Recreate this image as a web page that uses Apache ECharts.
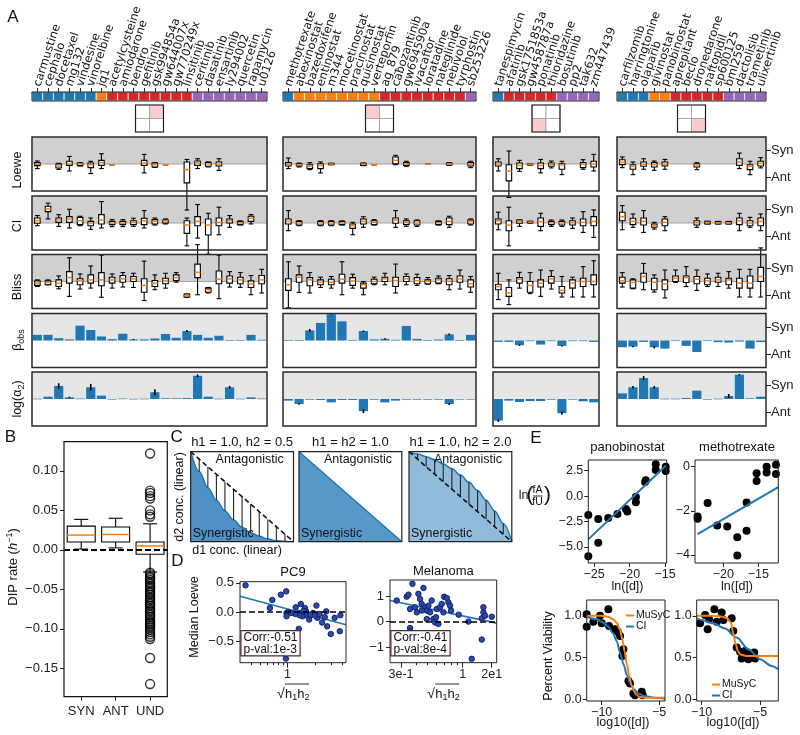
<!DOCTYPE html>
<html>
<head>
<meta charset="utf-8">
<script src="https://cdn.jsdelivr.net/npm/echarts@6/dist/echarts.min.js"></script>
<style>
html, body { margin: 0; padding: 0; background: #fff; }
#main { width: 800px; height: 735px; }
</style>
</head>
<body>
<div id="main"></div>
<script>
// ---------- panel A : drugs, classes, quadrants ----------
const g1Drugs = ['carmustine','cephalo','docetaxel','mg132','vindesine','vinorelbine','jq1','acetylcysteine','amiodarone','bendro','gefitinib','gsk994854a','gw644007x','gw770249x','linsitinib','ceritinib','dasatinib','ensartinib','ly294002','quercetin','rapamycin','u0126'];
const g2Drugs = ['methotrexate','abexinostat','bazedoxifene','entinostat','m344','mocetinostat','pracinostat','quisinostat','verteporfin','ag_879','cabozantinib','gw694590a','ivacaftor','loratadine','nateglinide','nebivolol','tyrphostin','sb253226'];
const g3Drugs = ['tanespimycin','afatinib','gsk1751853a','gw458787a','ponatinib','thioridazine','bosutinib','pp2','tak632','zm447439'];
const g4Drugs = ['carfilzomib','harringtonine','olaparib','givinostat','panobinostat','aprepitant','beclo','dronedarone','naftopidil','sp600125','bml259','dactolisib','trametinib','ulixertinib'];

const g1Cls = 'bbbbbborrrrrrrrppppppp'.split('');
const g2Cls = 'boooooooorrrrrrrrp'.split('');
const g3Cls = 'brrrrrpppp'.split('');
const g4Cls = 'bbboorrrrrpppp'.split('');

// pink cell of the 2x2 quadrant [col,row] (row 1 = top)
const g1Quad = [1, 1];
const g2Quad = [0, 1];
const g3Quad = [0, 0];
const g4Quad = [1, 0];

// boxes: [min, q1, median, q3, max]; null = no data
const g1Loewe = [[-0.34,-0.12,-0.02,0.1,0.22],null,[-0.4,-0.3,-0.15,0.0,0.05],[-0.52,-0.1,0.0,0.2,0.56],[-0.15,-0.12,0.0,0.07,0.1],[-0.71,-0.27,-0.05,0.07,0.2],[-0.34,-0.1,0.1,0.27,0.76],[-0.05,-0.05,-0.05,-0.05,-0.05],null,null,[-0.66,-0.1,0.07,0.27,0.71],[-0.25,-0.22,-0.05,0.07,0.1],[-0.05,-0.05,-0.05,-0.05,-0.05],null,[-3.41,-1.4,-0.42,0.15,0.34],[-0.34,-0.1,0.07,0.22,0.39],[-0.22,-0.17,0.0,0.12,0.15],[-0.47,-0.15,-0.02,0.15,0.39],null,null,null,null];
const g2Loewe = [[-0.34,-0.15,-0.02,0.1,0.44],[-0.22,-0.15,-0.05,0.02,0.07],[-0.42,-0.34,-0.17,-0.05,0.1],[-0.66,-0.34,-0.1,0.02,0.15],[-0.05,-0.05,0,0.05,0.05],null,null,[-0.12,-0.1,0,0.05,0.07],[-0.05,-0.05,-0.05,-0.05,-0.05],null,[-0.05,0.02,0.27,0.52,0.64],[-0.17,-0.1,0,0.1,0.2],null,[-0.02,-0.02,-0.02,-0.02,-0.02],null,[-0.1,-0.07,0,0.07,0.1],null,[-0.27,-0.15,-0.02,0.1,0.2]];
const g3Loewe = [[-0.52,-0.15,0,0.15,0.39],[-2.48,-1.25,-0.52,-0.05,0.96],[-0.54,-0.34,-0.1,0.07,0.27],[-0.07,-0.07,-0.02,0,0],[-0.66,-0.34,-0.1,0.07,0.34],[-0.29,-0.17,-0.02,0.07,0.22],[-0.79,-0.39,-0.07,0.02,0.2],null,[-0.39,-0.27,-0.02,0.1,0.32],[-0.52,-0.22,0,0.2,0.71]];
const g4Loewe = [[-0.27,-0.05,0.12,0.32,0.52],[-0.79,-0.39,-0.17,-0.05,0.15],[-0.39,-0.17,-0.02,0.15,0.39],[-0.47,-0.22,-0.05,0.1,0.22],[-0.39,-0.15,-0.02,0.15,0.34],null,null,[-0.42,-0.22,-0.07,0.02,0.1],null,null,null,[-0.34,-0.1,0.15,0.39,0.81],[-0.79,-0.42,-0.17,-0.05,0.2],[-0.29,-0.15,0.05,0.2,0.47]];

const g1CI = [[-0.2,-0.02,0.17,0.37,0.55],[0.3,0.84,1.04,1.24,1.47],[-0.25,0.05,0.22,0.37,0.62],[-0.37,0.05,0.3,0.47,1.02],[-0.2,-0.12,0.17,0.42,0.5],[-0.47,-0.2,0,0.12,0.37],[-0.37,-0.07,0.22,0.62,1.59],[-0.27,-0.12,0,0.12,0.25],[-0.27,-0.12,-0.02,0.12,0.25],[-0.25,-0.12,0.05,0.17,0.35],[-0.37,-0.12,0.17,0.35,0.92],[-0.15,-0.07,0.12,0.25,0.37],[-0.07,0,0.15,0.22,0.3],null,[-1.69,-0.77,-0.15,0.17,0.37],[-1.12,-0.2,0.12,0.47,1.37],[-2.31,-0.89,-0.15,0.3,0.72],[-0.87,-0.2,0.05,0.37,1.17],[-0.32,0,0.17,0.3,0.55],[-0.15,-0.12,0,0.12,0.15],[-0.07,0.12,0.35,0.5,0.62],null];
const g2CI = [[-0.57,-0.07,0.12,0.3,0.92],[-0.2,-0.15,0,0.12,0.17],null,[-0.2,-0.15,0,0.12,0.17],[-0.2,-0.15,0,0.12,0.17],[-0.15,-0.12,0,0.12,0.15],[-0.87,-0.4,-0.2,-0.07,0.05],[-0.32,-0.07,0.12,0.3,0.47],[-0.15,-0.12,0.05,0.17,0.25],null,[-0.32,-0.02,0.22,0.37,0.92],[-0.25,-0.12,0.05,0.17,0.3],[-0.25,-0.15,0,0.17,0.22],null,[-0.15,-0.12,0.02,0.12,0.15],[-0.32,-0.12,0.12,0.37,0.5],null,[-0.15,-0.07,0.1,0.22,0.3]];
const g3CI = [[-0.5,-0.07,0.17,0.3,0.8],[-1.69,-0.57,-0.15,0.17,1.17],[-0.25,-0.02,0.12,0.22,0.22],[0,0,0.07,0.12,0.12],[-0.57,-0.25,0.1,0.37,0.72],[-0.25,-0.12,0.02,0.12,0.22],[-0.25,-0.15,0,0.12,0.22],[-0.4,-0.15,0.02,0.17,0.37],[-0.7,-0.2,0.05,0.3,0.84],[-1.07,-0.2,0.12,0.47,0.97]];
const g4CI = [[-0.5,0.17,0.47,0.8,1.29],[-0.32,-0.12,0.12,0.35,0.67],[-0.7,-0.15,0.12,0.37,0.92],[-0.45,-0.32,-0.2,-0.07,0.05],[-0.57,-0.2,0.05,0.3,0.47],null,null,[-0.32,-0.15,0.02,0.17,0.37],[-0.07,-0.07,0.05,0.12,0.12],[-0.07,-0.07,0.02,0.1,0.12],[-0.07,-0.07,0.02,0.1,0.12],[-0.57,-0.12,0.17,0.37,0.72],[-0.32,-0.2,0,0.17,0.42],[-0.57,-0.2,0.12,0.37,0.67]];

const g1Bliss = [[-0.37,-0.29,-0.12,0.05,0.12],[-0.24,-0.24,-0.07,0.05,0.12],[-0.54,-0.37,-0.12,0.12,0.41],[-1.1,-0.12,0.29,0.73,1.76],[-0.56,-0.24,0.05,0.2,0.56],[-0.49,-0.12,0.12,0.49,1.15],[-1.17,-0.32,0.12,0.66,1.95],[-0.49,-0.12,0.12,0.32,0.56],[-0.41,-0.05,0.2,0.44,0.66],[-0.44,0,0.2,0.37,0.61],[-1.41,-0.8,-0.29,0.2,1.51],[-0.61,-0.37,-0.12,0.07,0.49],[-0.49,-0.17,0.05,0.24,0.61],[-0.05,0.07,0.29,0.49,0.66],[-1.17,-1.15,-1.05,-0.93,-0.93],[-0.98,0.29,0.68,1.29,2.73],[-0.85,-0.8,-0.61,-0.49,-0.44],[-1.27,-0.17,0.17,0.78,1.95],[-0.41,-0.12,0.2,0.41,0.73],[-0.44,-0.17,0.12,0.32,0.66],[-0.98,-0.44,-0.17,0.05,0.44],[-0.85,-0.17,0.12,0.44,0.9]];
const g2Bliss = [[-1.95,-0.66,-0.24,0.2,1.46],[-0.8,-0.05,0.32,0.49,1.15],[-0.85,-0.32,0.12,0.29,0.66],[-0.44,-0.24,-0.05,0.12,0.32],[-0.49,-0.24,-0.05,0.17,0.37],[-0.98,-0.12,0.17,0.54,1.46],[-0.49,-0.29,0.05,0.29,0.54],[-0.98,-0.49,-0.24,-0.12,0],[-0.24,-0.17,0,0.17,0.32],[-0.24,0,0.2,0.32,0.61],[-0.85,-0.37,0.07,0.32,1.29],[-0.24,0,0.2,0.37,0.56],[-0.29,-0.17,0.07,0.29,0.54],[-0.2,-0.17,0.02,0.12,0.29],[-0.17,-0.12,0.12,0.24,0.41],[-0.61,-0.24,0.02,0.2,0.44],[-0.56,-0.05,0.2,0.41,0.85],[-0.8,-0.41,-0.17,0.12,0.37]];
const g3Bliss = [[-1.34,-0.61,-0.37,-0.2,0.61],[-1.71,-1.1,-0.85,-0.44,0.12],[-0.49,-0.12,0.17,0.29,0.68],[-0.9,-0.8,-0.29,0,0.66],[-1.1,-0.41,-0.12,0.12,0.85],[-0.56,-0.12,0.2,0.37,0.8],[-1.15,-0.85,-0.66,-0.37,0.37],[-1.15,-0.49,-0.12,0.12,0.32],[-1.15,-0.37,0,0.24,1.1],[-1.15,-0.24,0,0.49,1.54]];
const g4Bliss = [[-0.41,-0.12,0.05,0.32,0.66],[-0.54,-0.49,-0.07,0.12,0.2],[-0.61,-0.05,0.37,0.61,1.34],[-0.78,-0.61,-0.05,0.24,0.49],[-1.22,-0.61,-0.17,0.12,0.85],[-0.07,0,0.24,0.41,0.85],[-0.37,-0.07,0.29,0.41,1.1],[-0.66,-0.17,0.17,0.37,0.85],[-0.37,-0.24,0.05,0.24,0.56],[-0.37,-0.05,0.12,0.32,0.61],[-0.49,-0.24,0.12,0.24,0.73],[-1.15,-0.49,-0.12,0.24,0.9],[-1.15,-0.49,-0.12,0.41,0.9],[-1.15,0,0.37,1.05,2.49]];

// bars: beta_obs and log(alpha2), with error half-lengths
const g1Beta = [0.42,0.42,0.17,0.08,1.1,0.78,0.3,0.1,0.5,0.08,0.08,0.15,0.48,0.2,0.7,0.42,0.2,0.35,0.02,0.02,0.42,0.05];
const g1BetaErr = [0,0,0,0,0,0,0,0,0,0.04,0,0,0,0,0.08,0,0,0,0,0,0,0];
const g2Beta = [0.02,0.02,0.75,1.3,1.95,1.42,0.02,0.7,0.08,0.12,0.05,1.08,0.12,0.01,0.07,0.45,0.01,0.42];
const g2BetaErr = [0,0,0.1,0,0.03,0,0,0.05,0,0.05,0,0,0,0,0,0.06,0,0];
const g3Beta = [-0.1,-0.1,-0.35,-0.05,-0.3,-0.05,-0.4,-0.05,-0.05,-0.1];
const g3BetaErr = [0,0,0.05,0,0,0,0.05,0,0,0];
const g4Beta = [-0.5,-0.45,-0.1,-0.5,-0.6,-0.03,-0.4,-0.85,-0.02,-0.12,-0.15,-0.08,-0.6,-0.12];
const g4BetaErr = [0,0.05,0,0.08,0,0,0,0,0,0,0,0,0,0];

const g1Alpha = [0.02,0.17,0.97,0.12,0.03,0.87,0.25,0,0.03,0.01,0.02,0.5,0.05,0.05,0.07,1.72,0.17,0.02,0.87,0.02,0.12,0.03];
const g1AlphaErr = [0,0,0.2,0.05,0,0.25,0,0,0,0,0,0.22,0,0,0,0.1,0,0,0.1,0,0,0];
const g2Alpha = [-0.12,-0.37,-0.05,-0.07,-0.25,-0.07,-0.07,-0.9,-0.05,-0.25,-0.12,-0.05,-0.05,-0.05,-0.05,-0.37,-0.03,-0.03];
const g2AlphaErr = [0,0.05,0,0,0,0,0,0.15,0,0,0,0,0,0,0,0.08,0,0];
const g3Alpha = [-1.6,-0.12,-0.22,-0.15,-0.15,-0.05,-1.05,-0.02,-0.17,-0.25];
const g3AlphaErr = [0.1,0,0,0,0,0,0.12,0,0,0];
const g4Alpha = [0.42,0.87,1.55,0.87,0.02,0.02,0.07,0.62,0,0.02,0.22,1.8,0.05,0.17];
const g4AlphaErr = [0,0.1,0.15,0.1,0,0,0,0,0,0,0.15,0.05,0,0];

// ---------- panel B ----------
const bCats = ['SYN', 'ANT', 'UND'];
const bBoxes = [[0.001,0.010,0.0187,0.030,0.0386],[0.0025,0.010,0.0195,0.029,0.040],[-0.028,-0.0055,0.005,0.010,0.033]];
const bUndOutliers = [0.042,0.045,0.05,0.065,0.068,0.072,0.075,0.122,
  -0.029,-0.031,-0.034,-0.036,-0.038,-0.041,-0.043,-0.046,-0.048,-0.05,-0.053,-0.055,-0.057,-0.06,-0.062,-0.064,-0.067,-0.069,-0.071,
  -0.074,-0.076,-0.078,-0.081,-0.083,-0.085,-0.088,-0.09,-0.092,-0.094,-0.096,-0.098,-0.101,-0.104,-0.107,-0.11,-0.113,-0.137,-0.17];
const bTicks = [-0.15,-0.10,-0.05,0,0.05,0.10];

// ---------- panel C ----------
const cX    = [0,0.083,0.167,0.25,0.333,0.417,0.5,0.583,0.667,0.75,0.833,0.917,1];
const cDiag = [1,0.917,0.833,0.75,0.667,0.583,0.5,0.417,0.333,0.25,0.167,0.083,0];
const c1Y   = [1,0.78,0.6,0.46,0.34,0.24,0.16,0.1,0.06,0.03,0.01,0.003,0];
const c3Y   = [1,0.975,0.945,0.91,0.865,0.81,0.74,0.66,0.57,0.46,0.34,0.2,0];
const cTitles = ['h1 = 1.0, h2 = 0.5', 'h1 = h2 = 1.0', 'h1 = 1.0, h2 = 2.0'];

// ---------- panel D ----------
const dPC9 = [[0.345,0.457],[0.68,0.206],[0.64,0.069],[0.845,0.297],[0.967,0.354],[0.975,-0.017],[1.02,0],[0.975,-0.074],[1.23,0.08],[1.4,0.137],[1.33,-0.017],[1.55,0.069],[1.6,0.011],[1.62,-0.057],[1.73,-0.13],[1.46,-0.074],[1.91,-0.017],[2.08,0.11],[2.13,-0.1],[2.25,-0.034],[2.4,-0.18],[2.57,-0.09],[2.67,0.011],[2.73,-0.246],[2.99,-0.377],[3.3,-0.1],[3.76,-0.33],[3.82,-0.057],[1.33,-0.29],[0.96,-0.8],[1.36,-0.057],[1.22,-0.034],[1.1,-0.017],[1.5,0.02],[1.8,-0.05],[2.0,-0.06]];
const dPC9Fit = [[0.3,0.27],[4.4,-0.22]];
const dMel = [[0.276,0.82],[0.335,0.97],[0.347,1.05],[0.375,1.47],[0.358,0.49],[0.358,-0.25],[0.358,-0.38],[0.408,0.36],[0.421,1.08],[0.435,0.88],[0.449,0.69],[0.465,1.31],[0.48,0.56],[0.496,0.43],[0.512,0.62],[0.529,0.36],[0.546,0.82],[0.564,0.1],[0.583,-0.03],[0.594,0.17],[0.602,0.49],[0.622,-0.09],[0.642,0.56],[0.664,0.69],[0.686,0.36],[0.695,0.97],[0.732,0.92],[0.756,0.75],[0.781,0.62],[0.796,0.43],[0.925,0.27],[1.117,0],[1.192,-1.45],[1.45,0.13],[1.497,0.36],[1.497,0.56],[1.546,0.23],[1.45,-0.7],[1.76,0.19],[0.449,0.43],[0.496,0.1],[0.394,0.56]];
const dMelFit = [[0.242,0.82],[1.94,-0.06]];

// ---------- panel E ----------
const ePano = [[-25.8,-1.87],[-25.8,-5.93],[-24.4,-2.27],[-24.4,-4.6],[-23.0,-2.17],[-21.7,-1.77],[-20.5,-1.27],[-20.3,-1.53],[-19.1,-0.1],[-19.1,-0.6],[-17.7,1.57],[-17.8,1.4],[-16.3,3.13],[-16.3,2.57],[-14.9,2.9],[-14.9,2.47]];
const ePanoFit = [[-25.8,-4.27],[-14.9,3.0]];
const eMtx = [[-23.67,-2.26],[-23.67,-2.36],[-22.24,-1.65],[-20.86,-2.66],[-19.43,-2.71],[-18.0,-3.2],[-18.0,-4.02],[-16.67,-1.62],[-16.67,-2.9],[-15.24,-0.3],[-15.24,-0.65],[-13.81,0],[-13.81,-0.27],[-12.48,0.08],[-12.48,-0.33]];
const eMtxFit = [[-23.67,-3.05],[-12.14,-0.93]];
const eViaPano = [[-11.31,1.02],[-11.31,0.87],[-10.73,0.93],[-10.15,1.0],[-10.0,0.91],[-9.42,1.08],[-9.36,0.88],[-8.84,0.84],[-8.6,0.81],[-8.4,0.76],[-8.11,0.6],[-8.2,0.52],[-7.67,0.22],[-7.53,0.19],[-7.24,0.07],[-7.09,0.05],[-6.51,0.09],[-6.42,0.05]];
const eViaPanoMusyc = [[-11.31,1.0],[-10,1.0],[-9.5,0.99],[-9,0.96],[-8.7,0.92],[-8.4,0.83],[-8.2,0.72],[-8.0,0.57],[-7.8,0.42],[-7.6,0.28],[-7.4,0.17],[-7.2,0.1],[-7.0,0.06],[-6.7,0.03],[-6.3,0.02],[-5.5,0.02],[-4.48,0.02]];
const eViaPanoCI = [[-11.31,0.99],[-10.5,0.96],[-10,0.93],[-9.5,0.88],[-9,0.79],[-8.7,0.7],[-8.4,0.56],[-8.1,0.42],[-7.8,0.29],[-7.5,0.19],[-7.2,0.12],[-6.8,0.07],[-6.3,0.04],[-5.5,0.02],[-4.48,0.01]];
const eViaMtx = [[-10.14,0.91],[-9.71,1.01],[-9.49,0.84],[-9.37,0.96],[-8.91,1.08],[-8.71,0.93],[-8.29,1.04],[-8.14,0.95],[-7.43,0.97],[-7.29,0.82],[-7.0,0.62],[-6.71,0.57],[-6.57,0.49],[-6.29,0.58],[-6.0,0.48],[-5.86,0.54],[-5.43,0.49],[-5.49,0.56]];
const eViaMtxMusyc = [[-10.43,1.0],[-9,1.0],[-8.2,0.99],[-7.8,0.97],[-7.5,0.92],[-7.3,0.8],[-7.1,0.67],[-6.9,0.58],[-6.7,0.54],[-6.5,0.53],[-6.2,0.52],[-5.5,0.52],[-4.5,0.52],[-3.43,0.52]];
const eViaMtxCI = [[-10.43,0.97],[-10,0.95],[-9,0.91],[-8,0.85],[-7,0.74],[-6,0.6],[-5,0.48],[-4,0.4],[-3.43,0.36]];

// ---------- helpers ----------
const FF = '"Liberation Sans", Arial, sans-serif';
const BLUE = '#1f77b4', ORANGE = '#ff7f0e';
const CLS_COLOR = { b: '#1f77b4', o: '#ff7f0e', r: '#d62728', p: '#9467bd' };
const fmt = (v, d) => (v < -1e-9 ? '\u2212' : '') + Math.abs(v).toFixed(d);

const grids = [], xAxes = [], yAxes = [], series = [], graphics = [];

function addGrid(l, t, w, h, border) {
  grids.push({ left: l, top: t, width: w, height: h, show: true, z: 5,
    borderColor: border ? border.c : '#111', borderWidth: border ? border.w : 1 });
  return grids.length - 1;
}
function mkAxis(gi, o) {
  const a = Object.assign({ gridIndex: gi, type: 'value', axisTick: { show: false },
    axisLabel: { show: false }, splitLine: { show: false } }, o);
  a.axisLine = Object.assign({ show: false }, o.axisLine || {}, { onZero: false });
  return a;
}
function addX(gi, o) { xAxes.push(mkAxis(gi, o || {})); return xAxes.length - 1; }
function addY(gi, o) { yAxes.push(mkAxis(gi, o || {})); return yAxes.length - 1; }
function ticks(vals, len) { return { show: true, customValues: vals, length: len, lineStyle: { color: '#222', width: 1 } }; }
function labels(vals, f, size, margin) {
  return { show: true, customValues: vals, formatter: f, fontSize: size, fontFamily: FF, color: '#222', margin: margin };
}
function T(x, y, text, size, o) {
  o = o || {};
  graphics.push({ type: 'text', x: x, y: y, rotation: o.rot || 0, silent: true, z: 20,
    style: Object.assign({ text: text, fontSize: size, fontFamily: o.ff || FF, fill: '#111',
      align: o.align || 'center', verticalAlign: o.va || 'middle' }, o.style || {}) });
}
function L(x1, y1, x2, y2, w) {
  graphics.push({ type: 'line', silent: true, z: 20, shape: { x1, y1, x2, y2 }, style: { stroke: '#111', lineWidth: w || 1 } });
}

// box renderer: half widths either fraction of a unit or pixels
function boxRenderer(half, capHalf, px) {
  return function (params, api) {
    const x = api.value(0);
    const c = [1, 2, 3, 4, 5].map(k => api.coord([x, api.value(k)]));
    const unit = api.size([1, 0])[0];
    const hw = px ? half : unit * half, cw = px ? capHalf : unit * capHalf;
    const cx = c[0][0];
    const st = { stroke: '#000', lineWidth: 1.1 };
    return { type: 'group', children: [
      { type: 'line', shape: { x1: cx, y1: c[0][1], x2: cx, y2: c[1][1] }, style: st },
      { type: 'line', shape: { x1: cx, y1: c[3][1], x2: cx, y2: c[4][1] }, style: st },
      { type: 'line', shape: { x1: cx - cw, y1: c[0][1], x2: cx + cw, y2: c[0][1] }, style: st },
      { type: 'line', shape: { x1: cx - cw, y1: c[4][1], x2: cx + cw, y2: c[4][1] }, style: st },
      { type: 'rect', shape: { x: cx - hw, y: c[3][1], width: 2 * hw, height: c[1][1] - c[3][1] },
        style: { stroke: '#000', lineWidth: 1.1, fill: '#fff' } },
      { type: 'line', shape: { x1: cx - hw, y1: c[2][1], x2: cx + hw, y2: c[2][1] },
        style: { stroke: ORANGE, lineWidth: 1.5 } }
    ] };
  };
}
function barRenderer(params, api) {
  const i = api.value(0), v = api.value(1), e = api.value(2);
  const p0 = api.coord([i - 0.43, 0]), p1 = api.coord([i + 0.43, v]);
  const ch = [{ type: 'rect', shape: { x: p0[0], y: Math.min(p0[1], p1[1]), width: p1[0] - p0[0],
    height: Math.max(Math.abs(p1[1] - p0[1]), 0.6) }, style: { fill: BLUE } }];
  if (e > 0) {
    const a = api.coord([i, v - e]), b = api.coord([i, v + e]);
    ch.push({ type: 'line', shape: { x1: a[0], y1: a[1], x2: b[0], y2: b[1] }, style: { stroke: '#000', lineWidth: 1.6 } });
  }
  return { type: 'group', children: ch };
}

// ---------- panel A ----------
const groups = [
  { drugs: g1Drugs, cls: g1Cls, quad: g1Quad, rows: [g1Loewe, g1CI, g1Bliss], bars: [[g1Beta, g1BetaErr], [g1Alpha, g1AlphaErr]] },
  { drugs: g2Drugs, cls: g2Cls, quad: g2Quad, rows: [g2Loewe, g2CI, g2Bliss], bars: [[g2Beta, g2BetaErr], [g2Alpha, g2AlphaErr]] },
  { drugs: g3Drugs, cls: g3Cls, quad: g3Quad, rows: [g3Loewe, g3CI, g3Bliss], bars: [[g3Beta, g3BetaErr], [g3Alpha, g3AlphaErr]] },
  { drugs: g4Drugs, cls: g4Cls, quad: g4Quad, rows: [g4Loewe, g4CI, g4Bliss], bars: [[g4Beta, g4BetaErr], [g4Alpha, g4AlphaErr]] }
];
const GX = [[32, 267], [283, 476], [493, 599], [617, 766]];
const ROW_Y = [137, 196, 254.5, 313.5, 372], ROW_H = 54;

groups.forEach((g, gi) => {
  const left = GX[gi][0], W = GX[gi][1] - GX[gi][0], n = g.drugs.length;

  // colour bar with drug names
  const cg = addGrid(left, 92, W, 9, { c: '#222', w: 1 });
  const cx = addX(cg, { type: 'category', data: g.drugs, position: 'top',
    axisLine: { show: true, lineStyle: { color: '#222' } },
    axisTick: { show: true, alignWithLabel: true, length: 4, lineStyle: { color: '#222' } },
    axisLabel: { show: true, interval: 0, rotate: -72, align: 'left', verticalAlign: 'middle', margin: 6,
      fontSize: 11.5, fontFamily: 'DejaVu Sans', color: '#111' } });
  const cy = addY(cg, { min: 0, max: 1 });
  series.push({ type: 'bar', xAxisIndex: cx, yAxisIndex: cy, barCategoryGap: '0%', silent: true, z: 2,
    itemStyle: { borderColor: 'rgba(255,255,255,0.55)', borderWidth: 0.6 },
    data: g.cls.map(c => ({ value: 1, itemStyle: { color: CLS_COLOR[c] } })) });

  // quadrant
  const qc = left + W / 2;
  const qg = addGrid(qc - 14, 105, 28, 27, { c: '#222', w: 1.2 });
  const qx = addX(qg, { min: 0, max: 2 }), qy = addY(qg, { min: 0, max: 2 });
  const cells = [[0, 0], [1, 0], [0, 1], [1, 1]].map(p => [p[0], p[1], (p[0] === g.quad[0] && p[1] === g.quad[1]) ? 1 : 0]);
  series.push({ type: 'custom', xAxisIndex: qx, yAxisIndex: qy, silent: true, z: 2, data: cells,
    renderItem(params, api) {
      const a = api.coord([api.value(0), api.value(1) + 1]), b = api.coord([api.value(0) + 1, api.value(1)]);
      return { type: 'rect', shape: { x: a[0], y: a[1], width: b[0] - a[0], height: b[1] - a[1] },
        style: { fill: api.value(2) ? '#fccbcf' : '#fff', stroke: '#9a9a9a', lineWidth: 0.8 } };
    } });

  // five metric rows
  for (let r = 0; r < 5; r++) {
    const rg = addGrid(left, ROW_Y[r], W, ROW_H, { c: '#2a2a2a', w: 1.5 });
    const rx = addX(rg, { min: -0.5, max: n - 0.5 });
    const yo = { min: -2, max: 2 };
    if (gi === 3) {
      yo.position = 'right';
      yo.axisTick = ticks([-1, 1], 5);
      yo.axisLabel = labels([-1, 1], v => (v > 0 ? 'Syn' : 'Ant'), 13, 5);
    }
    const ry = addY(rg, yo);
    const isBox = r < 3;
    series.push({ type: 'custom', xAxisIndex: rx, yAxisIndex: ry, silent: true, z: 1, data: [[0, 0]],
      renderItem(params, api) {
        const a = api.coord([-0.5, 2]), b = api.coord([n - 0.5, 0]);
        const ch = [{ type: 'rect', shape: { x: a[0], y: a[1], width: b[0] - a[0], height: b[1] - a[1] },
          style: { fill: isBox ? '#d0d0d0' : '#e6e6e6' } }];
        if (isBox) ch.push({ type: 'line', shape: { x1: a[0], y1: b[1], x2: b[0], y2: b[1] }, style: { stroke: '#a3a3a3', lineWidth: 1 } });
        return { type: 'group', children: ch };
      } });
    if (isBox) {
      const data = g.rows[r].map((b, i) => (b ? [i].concat(b) : null)).filter(d => d);
      series.push({ type: 'custom', xAxisIndex: rx, yAxisIndex: ry, silent: true, z: 3, data: data,
        encode: { x: 0, y: 3 }, renderItem: boxRenderer(0.26, 0.22, false) });
    } else {
      const vals = g.bars[r - 3][0], errs = g.bars[r - 3][1];
      series.push({ type: 'custom', xAxisIndex: rx, yAxisIndex: ry, silent: true, z: 3,
        data: vals.map((v, i) => [i, v, errs[i]]), encode: { x: 0, y: 1 }, renderItem: barRenderer });
    }
  }
});

// row labels
const sub = { a: { fontSize: 12.5, lineHeight: 16, fontFamily: FF, fill: '#111' },
              s: { fontSize: 9, lineHeight: 9, verticalAlign: 'bottom', fontFamily: FF, fill: '#111' } };
T(18, 170, 'Loewe', 12.5, { rot: Math.PI / 2 });
T(18, 226, 'CI', 12.5, { rot: Math.PI / 2 });
T(18, 287, 'Bliss', 12.5, { rot: Math.PI / 2 });
T(18, 340, '{a|β}{s|obs}', 12.5, { rot: Math.PI / 2, style: { rich: sub } });
T(18, 399, '{a|log(α}{s|2}{a|)}', 12.5, { rot: Math.PI / 2, style: { rich: sub } });

// ---------- panel B ----------
{
  const gb = addGrid(64, 441.7, 103.3, 255, { c: '#111', w: 1.2 });
  const xb = addX(gb, { min: 0.5, max: 3.5, axisTick: ticks([1, 2, 3], 4),
    axisLabel: labels([1, 2, 3], v => bCats[Math.round(v) - 1], 13, 8) });
  const yb = addY(gb, { min: -0.186, max: 0.137, axisTick: ticks(bTicks, 4),
    axisLabel: labels(bTicks, v => fmt(v, 2), 13, 6) });
  series.push({ type: 'custom', xAxisIndex: xb, yAxisIndex: yb, silent: true, z: 3,
    data: bBoxes.map((b, i) => [i + 1].concat(b)), encode: { x: 0, y: 3 }, renderItem: boxRenderer(14, 7, true) });
  series.push({ type: 'scatter', xAxisIndex: xb, yAxisIndex: yb, silent: true, z: 4,
    symbol: 'circle', symbolSize: 9,
    itemStyle: { color: 'rgba(0,0,0,0)', borderColor: '#000', borderWidth: 1.4 },
    data: bUndOutliers.map(v => [3, v]),
    markLine: { silent: true, symbol: 'none', label: { show: false },
      lineStyle: { type: [6, 3], color: '#000', width: 2 }, data: [{ yAxis: 0 }] } });
  T(13, 567, '{n|DIP rate (}{i|h}{u|−1}{n|)}', 13, { rot: Math.PI / 2, style: { rich: {
    n: { fontSize: 13, lineHeight: 16, fontFamily: FF, fill: '#111' },
    i: { fontSize: 13, lineHeight: 16, fontStyle: 'italic', fontFamily: FF, fill: '#111' },
    u: { fontSize: 9, lineHeight: 9, verticalAlign: 'top', fontFamily: FF, fill: '#111' } } } });
}

// ---------- panel C ----------
{
  const lefts = [190.7, 299, 409];
  lefts.forEach((l, k) => {
    const gc = addGrid(l, 451.7, 102.8, 90, { c: '#222', w: 1.2 });
    const xc = addX(gc, { min: 0, max: 1 }), yc = addY(gc, { min: 0, max: 1 });
    const base = { type: 'line', xAxisIndex: xc, yAxisIndex: yc, silent: true, showSymbol: false, symbol: 'none' };
    if (k === 1) {
      series.push(Object.assign({}, base, { z: 2, data: [[cX[0], cDiag[0]], [cX[12], cDiag[12]]],
        lineStyle: { color: BLUE, width: 1.5 }, areaStyle: { color: '#5698c8', opacity: 1 } }));
    } else {
      const curve = k === 0 ? c1Y : c3Y;
      series.push(Object.assign({}, base, { z: 2, smooth: 0.35, smoothMonotone: 'x',
        data: cX.map((x, i) => [x, curve[i]]),
        lineStyle: { color: BLUE, width: 1.5 }, areaStyle: { color: k === 0 ? '#4f91c6' : '#8fbcdc', opacity: 1 } }));
      series.push({ type: 'custom', xAxisIndex: xc, yAxisIndex: yc, silent: true, z: 3,
        data: cX.slice(1, 12).map((x, i) => [x, curve[i + 1], cDiag[i + 1]]), encode: { x: 0, y: 1 },
        renderItem(params, api) {
          const a = api.coord([api.value(0), api.value(1)]), b = api.coord([api.value(0), api.value(2)]);
          return { type: 'line', shape: { x1: a[0], y1: a[1], x2: b[0], y2: b[1] }, style: { stroke: '#222', lineWidth: 1.1 } };
        } });
      series.push(Object.assign({}, base, { z: 4, data: cX.map((x, i) => [x, cDiag[i]]),
        lineStyle: { color: '#111', width: 1.6, type: [5, 3] } }));
    }
    T(l + 51.4, 442.7, cTitles[k], 13);
    T(l + 93, 459.5, 'Antagonistic', 12.5, { align: 'right' });
    T(l + 2, 533.5, 'Synergistic', 12.5, { align: 'left' });
  });
  T(180, 497, 'd2 conc. (linear)', 12.5, { rot: Math.PI / 2 });
  T(237, 550.5, 'd1 conc. (linear)', 12.5);
}

// ---------- panel D ----------
function dPanel(l, t, w, h, xr, yr, yTicks, yDec, majors, majorLabels, minors, pts, fit, title, corr) {
  const gd = addGrid(l, t, w, h, { c: '#222', w: 1 });
  const xl = addX(gd, { type: 'log', logBase: 10, min: xr[0], max: xr[1] });
  const lg = v => Math.log10(v);
  addX(gd, { min: lg(xr[0]), max: lg(xr[1]), position: 'bottom', axisTick: ticks(majors.map(lg), 5),
    axisLabel: labels(majors.map(lg), v => {
      let best = 0;
      majors.forEach((m, i) => { if (Math.abs(lg(m) - v) < Math.abs(lg(majors[best]) - v)) best = i; });
      return majorLabels[best];
    }, 12.5, 5) });
  addX(gd, { min: lg(xr[0]), max: lg(xr[1]), position: 'bottom', axisTick: ticks(minors.map(lg), 2.5) });
  const yd = addY(gd, { min: yr[0], max: yr[1], axisTick: ticks(yTicks, 4),
    axisLabel: labels(yTicks, v => fmt(v, yDec), 13, 6) });
  series.push({ type: 'line', xAxisIndex: xl, yAxisIndex: yd, silent: true, z: 3, data: fit,
    showSymbol: false, symbol: 'none', lineStyle: { color: BLUE, width: 1.6 },
    markLine: { silent: true, symbol: 'none', label: { show: false },
      lineStyle: { type: [6, 3], color: '#000', width: 1.6 }, data: [{ yAxis: 0 }] } });
  series.push({ type: 'scatter', xAxisIndex: xl, yAxisIndex: yd, silent: true, z: 4, data: pts,
    symbolSize: 5.5, itemStyle: { color: '#2b48b0', borderColor: '#0c1b5c', borderWidth: 0.9, opacity: 1 } });
  T(l + w / 2, t - 9, title, 13);
  T(l + 1.5, t + h - 31.5, corr, 12, { align: 'left', va: 'top', style: {
    lineHeight: 11.5, backgroundColor: '#fff', borderColor: '#4a2b2b', borderWidth: 1.2, padding: [1, 2, 0, 2] } });
  // sqrt(h1 h2) axis name
  const cxn = l + w / 2;
  T(cxn - 16, 694, '√', 14, { align: 'left' });
  T(cxn - 8, 694, '{h|h}{s|1}{h|h}{s|2}', 13, { align: 'left', style: { rich: {
    h: { fontSize: 13, lineHeight: 16, fontFamily: FF, fill: '#111' },
    s: { fontSize: 9, lineHeight: 9, verticalAlign: 'bottom', fontFamily: FF, fill: '#111' } } } });
  L(cxn - 8, 684, cxn + 16, 684, 0.9);
}
dPanel(240, 581.7, 106, 81, [0.3, 4.4], [-0.87, 0.52], [-0.5, 0, 0.5], 1, [1], ['1'],
  [0.4, 0.5, 0.6, 0.7, 0.8, 0.9, 2, 3, 4], dPC9, dPC9Fit, 'PC9', 'Corr:-0.51\np-val:1e-3');
dPanel(390, 580, 106.7, 82.7, [0.242, 1.94], [-1.6, 1.62], [-1, 0, 1], 0, [0.3, 1, 1.76], ['3e-1', '1', '2e1'],
  [0.4, 0.5, 0.6, 0.7, 0.8, 0.9], dMel, dMelFit, 'Melanoma', 'Corr:-0.41\np-val:8e-4');
T(195, 617, 'Median Loewe', 12.5, { rot: Math.PI / 2 });

// ---------- panel E ----------
function ePanel(l, t, w, h, xr, yr, xTicks, yTicks, yDec) {
  const ge = addGrid(l, t, w, h, { c: '#222', w: 1 });
  const xe = addX(ge, { min: xr[0], max: xr[1], axisTick: ticks(xTicks, 4), axisLabel: labels(xTicks, v => fmt(v, 0), 12.5, 5) });
  const ye = addY(ge, { min: yr[0], max: yr[1], axisTick: ticks(yTicks, 4), axisLabel: labels(yTicks, v => fmt(v, yDec), 12.5, 5) });
  return [xe, ye];
}
function scatterE(ax, pts) {
  series.push({ type: 'scatter', xAxisIndex: ax[0], yAxisIndex: ax[1], silent: true, z: 2, data: pts,
    symbolSize: 8, itemStyle: { color: '#000', opacity: 1 } });
}
function lineE(ax, pts, color, name, smooth) {
  series.push({ type: 'line', name: name, xAxisIndex: ax[0], yAxisIndex: ax[1], silent: true, z: 3, data: pts,
    smooth: smooth ? 0.3 : false, smoothMonotone: 'x', showSymbol: false, symbol: 'none', color: color,
    itemStyle: { color: color }, lineStyle: { color: color, width: 2 } });
}
{
  const e1 = ePanel(588.3, 460, 78.4, 103, [-25.8, -14.76], [-6.6, 3.56], [-25, -20, -15], [-5, -2.5, 0, 2.5], 1);
  scatterE(e1, ePano); lineE(e1, ePanoFit, BLUE);
  const e2 = ePanel(695, 460, 83.3, 103, [-24.04, -12.14], [-4.36, 0.3], [-20, -15], [-4, -2, 0], 0);
  scatterE(e2, eMtx); lineE(e2, eMtxFit, BLUE);
  const e3 = ePanel(586.7, 600, 78.3, 101, [-11.31, -4.48], [-0.02, 1.19], [-10, -5], [0, 0.5, 1], 1);
  scatterE(e3, eViaPano); lineE(e3, eViaPanoCI, BLUE, 'CI', true); lineE(e3, eViaPanoMusyc, ORANGE, 'MuSyC', true);
  const e4 = ePanel(696.7, 600, 81.6, 101, [-10.43, -3.43], [-0.02, 1.19], [-10, -5], [0, 0.5, 1], 1);
  scatterE(e4, eViaMtx); lineE(e4, eViaMtxCI, BLUE, 'CI', true); lineE(e4, eViaMtxMusyc, ORANGE, 'MuSyC', true);

  T(627.5, 447.7, 'panobinostat', 13);
  T(737, 447.7, 'methotrexate', 13);
  T(627.5, 587, 'ln([d])', 12.5);
  T(737, 587, 'ln([d])', 12.5);
  T(623, 723, 'log10([d])', 12.5);
  T(733, 723, 'log10([d])', 12.5);
  T(548.5, 656, 'Percent Viability', 12.5, { rot: Math.PI / 2 });
  // ln(fA/fU)
  T(523.5, 496, 'ln', 12.5);
  T(530, 495, '(', 21);
  T(537.5, 490, 'fA', 10.5);
  T(537.5, 502.5, 'fU', 10.5);
  L(533, 496, 542.5, 496, 0.9);
  T(547.5, 495, ')', 21);
}

// panel letters
T(13, 17, 'A', 17); T(10.5, 437, 'B', 17); T(176.7, 437, 'C', 17); T(177.5, 561, 'D', 17); T(536, 438, 'E', 17);

const legendBase = { orient: 'vertical', icon: 'rect', itemWidth: 8, itemHeight: 2, itemGap: 0, selectedMode: false,
  data: ['MuSyC', 'CI'], textStyle: { fontSize: 10.5, fontFamily: FF, color: '#111', lineHeight: 10, padding: [0, 0, 0, -3] } };

const chart = echarts.init(document.getElementById('main'), null, { renderer: 'canvas' });
chart.setOption({
  animation: false,
  backgroundColor: '#fff',
  grid: grids, xAxis: xAxes, yAxis: yAxes, series: series,
  legend: [Object.assign({ left: 621, top: 605 }, legendBase), Object.assign({ left: 707, top: 674 }, legendBase)],
  graphic: { elements: graphics }
});
</script>
</body>
</html>
